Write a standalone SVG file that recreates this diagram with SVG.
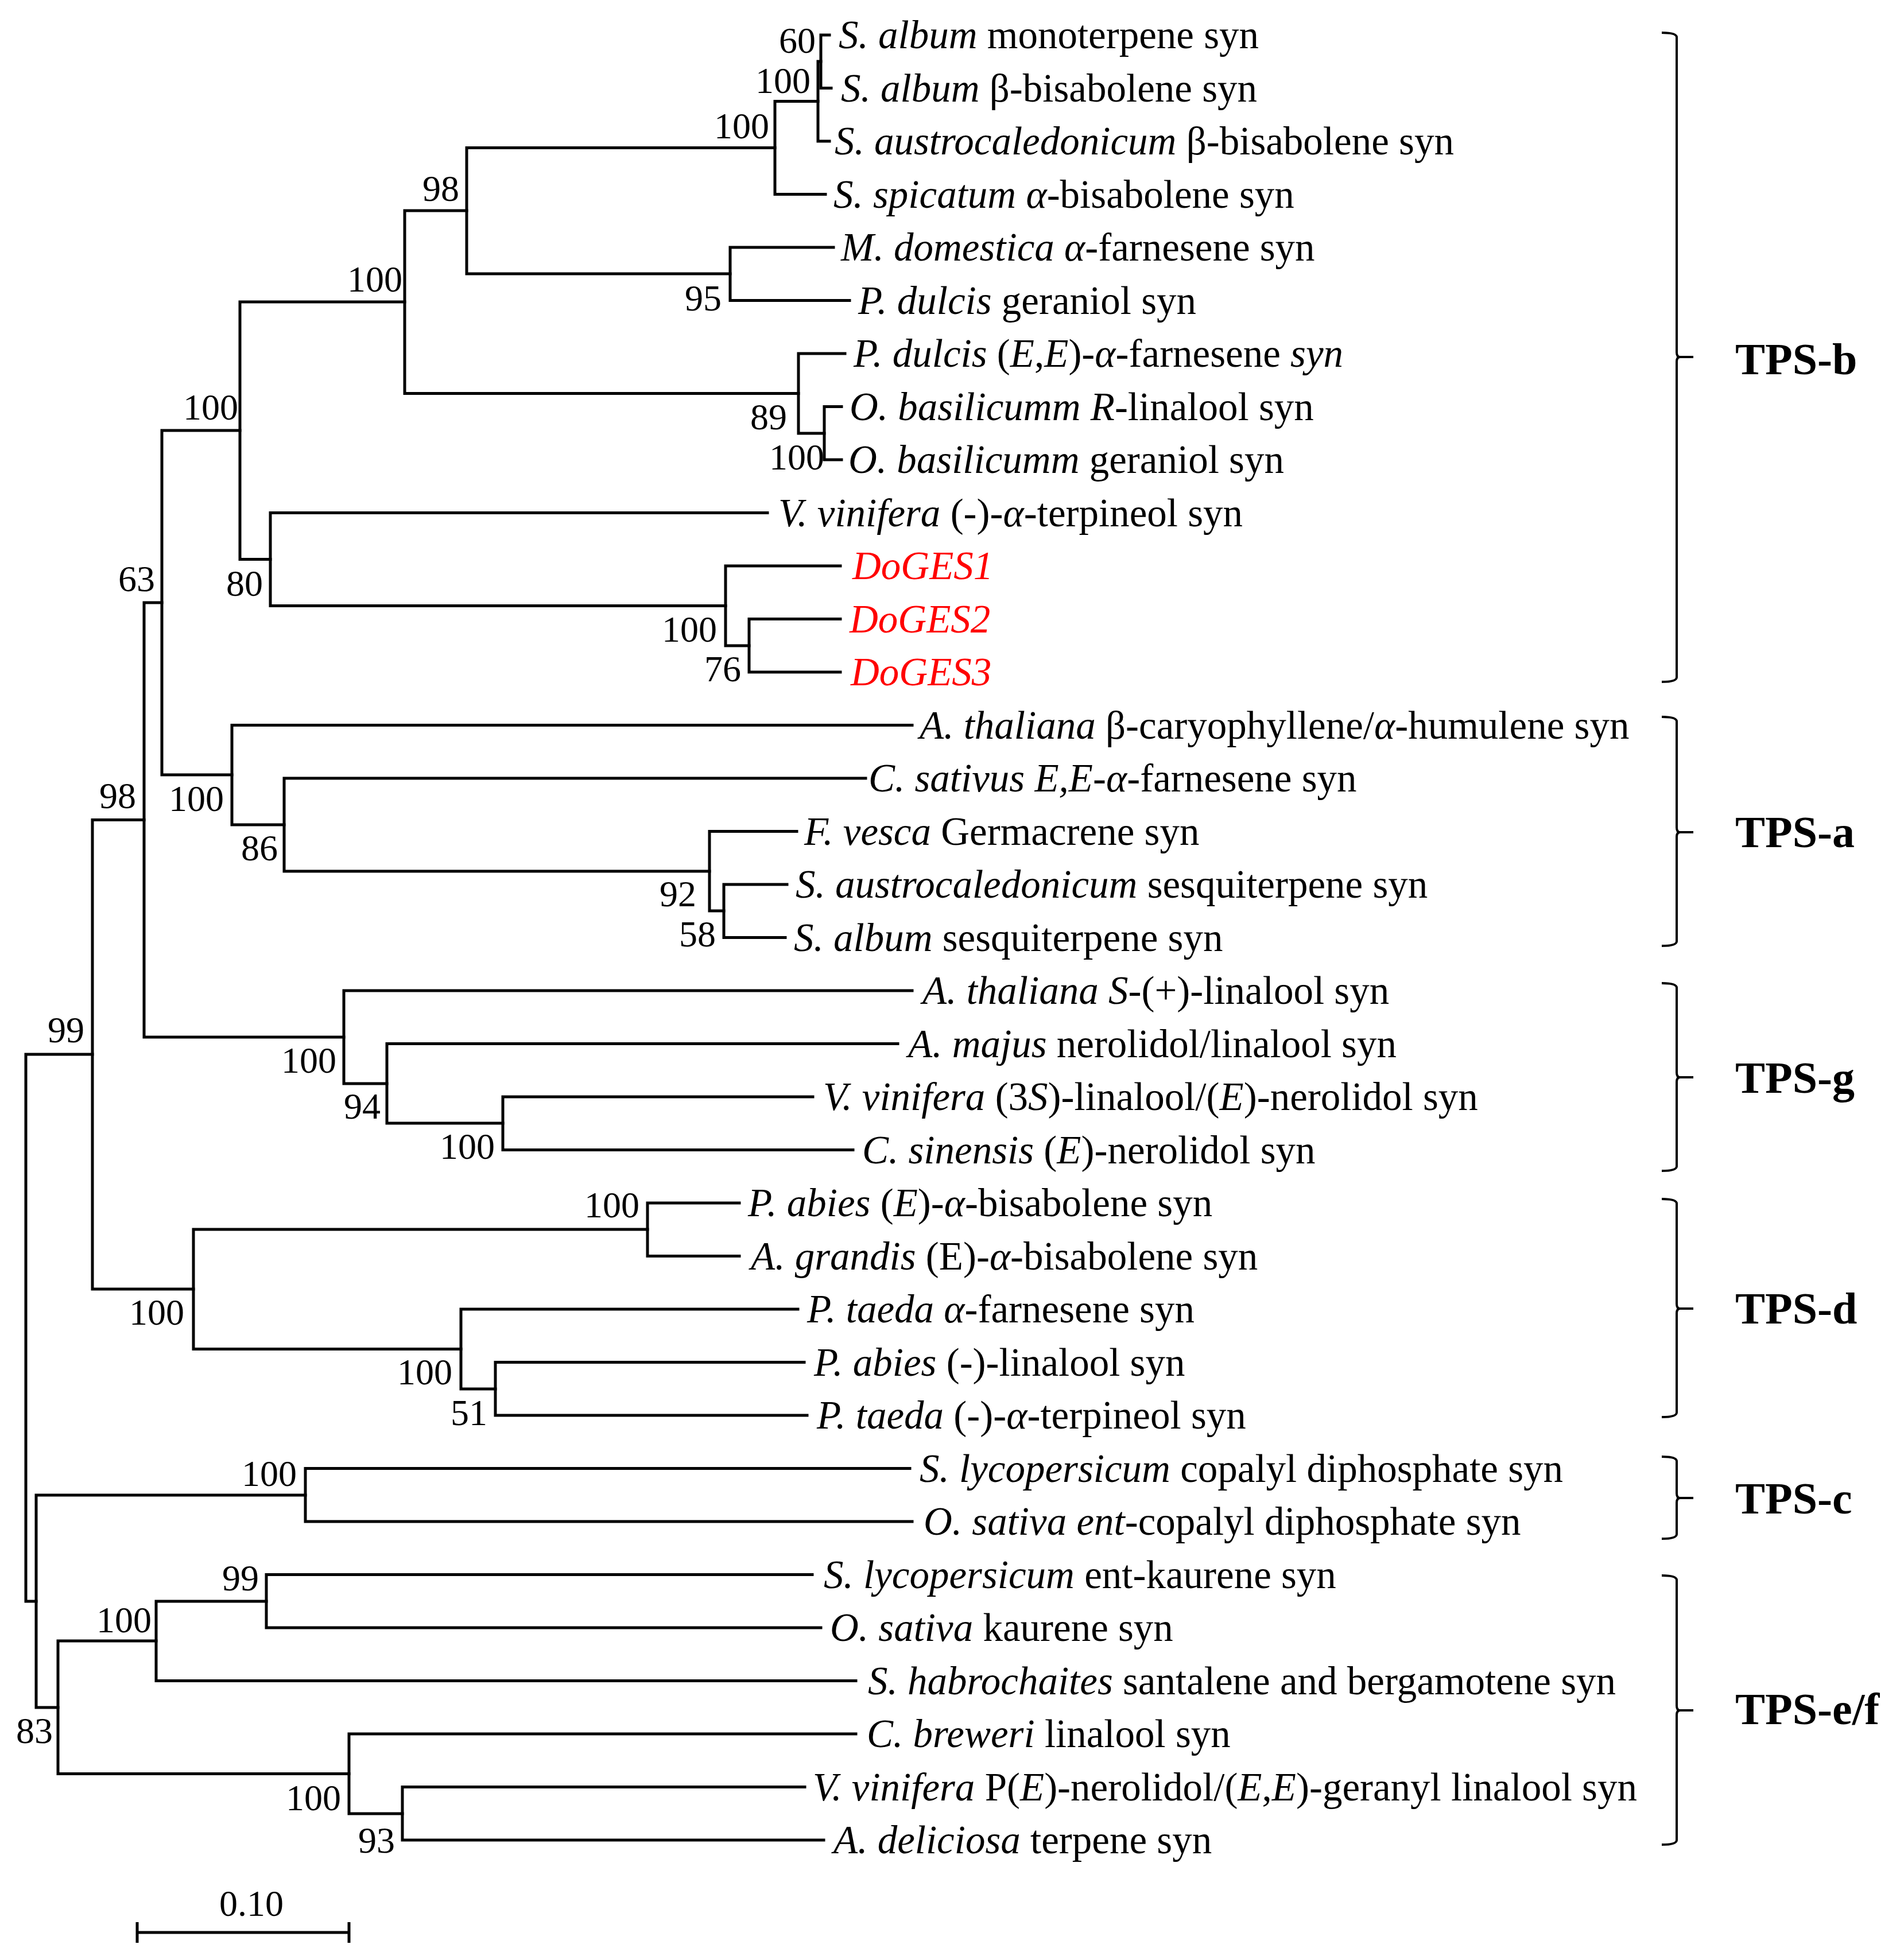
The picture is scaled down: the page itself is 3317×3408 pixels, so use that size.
<svg xmlns="http://www.w3.org/2000/svg" width="3317" height="3408" viewBox="0 0 3317 3408">
<style>
.br{fill:none;stroke:#000;stroke-width:5;stroke-linejoin:miter;stroke-linecap:square}
.bk{fill:none;stroke:#000;stroke-width:4}
.lf{font-family:"Liberation Serif",serif;font-size:69px;fill:#000}
.bs{font-family:"Liberation Serif",serif;font-size:64px;fill:#000;text-anchor:end}
.cl{font-family:"Liberation Serif",serif;font-size:78px;font-weight:bold;fill:#000}
.it{font-style:italic}
.red{fill:#FF0000;font-style:italic}
</style>
<rect width="3317" height="3408" fill="#fff"/>
<g id="connectors">
<path class="br" d="M1445,61 H1430 V153.5 H1448"/>
<path class="br" d="M1430,107 H1425 V246 H1445"/>
<path class="br" d="M1425,176.5 H1350 V338.5 H1438"/>
<path class="br" d="M1452,431 H1272 V523.5 H1480"/>
<path class="br" d="M1350,257.5 H813 V477 H1272"/>
<path class="br" d="M1466,708.5 H1436 V801 H1466"/>
<path class="br" d="M1472,616 H1391 V755 H1436"/>
<path class="br" d="M813,367 H705 V685.5 H1391"/>
<path class="br" d="M1464,1078.5 H1305 V1171 H1464"/>
<path class="br" d="M1464,986 H1264 V1125 H1305"/>
<path class="br" d="M1337,893.5 H471 V1055.5 H1264"/>
<path class="br" d="M705,526 H418 V974.5 H471"/>
<path class="br" d="M1371,1541 H1261 V1633.5 H1368"/>
<path class="br" d="M1388,1448.5 H1236 V1587 H1261"/>
<path class="br" d="M1508,1356 H495 V1518 H1236"/>
<path class="br" d="M1589,1263.5 H404 V1437 H495"/>
<path class="br" d="M418,750 H282 V1350 H404"/>
<path class="br" d="M1416,1911 H876 V2003.5 H1486"/>
<path class="br" d="M1564,1818.5 H674 V1957 H876"/>
<path class="br" d="M1589,1726 H599 V1888 H674"/>
<path class="br" d="M282,1050 H251 V1807 H599"/>
<path class="br" d="M1288,2096 H1128 V2188.5 H1288"/>
<path class="br" d="M1401,2373.5 H863 V2466 H1406"/>
<path class="br" d="M1390,2281 H803 V2420 H863"/>
<path class="br" d="M1128,2142 H337 V2350.5 H803"/>
<path class="br" d="M251,1428.5 H161 V2246 H337"/>
<path class="br" d="M1585,2558.5 H532 V2651 H1589"/>
<path class="br" d="M1415,2743.5 H464 V2836 H1430"/>
<path class="br" d="M464,2790 H272 V2928.5 H1491"/>
<path class="br" d="M1402,3113.5 H701 V3206 H1435"/>
<path class="br" d="M1491,3021 H608 V3160 H701"/>
<path class="br" d="M272,2859 H101 V3090.5 H608"/>
<path class="br" d="M532,2605 H63 V2975 H101"/>
<path class="br" d="M161,1837 H45 V2790 H63"/>
</g>
<g id="leaves">
<g id="leaf1"><text class="lf" x="1461" y="84"><tspan class="it">S. album</tspan> monoterpene syn</text></g>
<g id="leaf2"><text class="lf" x="1465" y="176.5"><tspan class="it">S. album</tspan> β-bisabolene syn</text></g>
<g id="leaf3"><text class="lf" x="1454" y="269"><tspan class="it">S. austrocaledonicum</tspan> β-bisabolene syn</text></g>
<g id="leaf4"><text class="lf" x="1452" y="361.5"><tspan class="it">S. spicatum α</tspan>-bisabolene syn</text></g>
<g id="leaf5"><text class="lf" x="1465" y="454"><tspan class="it">M. domestica α</tspan>-farnesene syn</text></g>
<g id="leaf6"><text class="lf" x="1495" y="546.5"><tspan class="it">P. dulcis</tspan> geraniol syn</text></g>
<g id="leaf7"><text class="lf" x="1487" y="639"><tspan class="it">P. dulcis</tspan> (<tspan class="it">E</tspan>,<tspan class="it">E</tspan>)-<tspan class="it">α</tspan>-farnesene <tspan class="it">syn</tspan></text></g>
<g id="leaf8"><text class="lf" x="1480" y="731.5"><tspan class="it">O. basilicumm R</tspan>-linalool syn</text></g>
<g id="leaf9"><text class="lf" x="1478" y="824"><tspan class="it">O. basilicumm</tspan> geraniol syn</text></g>
<g id="leaf10"><text class="lf" x="1356" y="916.5"><tspan class="it">V. vinifera</tspan> (-)-<tspan class="it">α</tspan>-terpineol syn</text></g>
<g id="leaf11"><text class="lf red" x="1485" y="1009">DoGES1</text></g>
<g id="leaf12"><text class="lf red" x="1480" y="1101.5">DoGES2</text></g>
<g id="leaf13"><text class="lf red" x="1482" y="1194">DoGES3</text></g>
<g id="leaf14"><text class="lf" x="1602" y="1286.5"><tspan class="it">A. thaliana</tspan> β-caryophyllene/<tspan class="it">α</tspan>-humulene syn</text></g>
<g id="leaf15"><text class="lf" x="1513" y="1379"><tspan class="it">C. sativus E,E-α</tspan>-farnesene syn</text></g>
<g id="leaf16"><text class="lf" x="1401" y="1471.5"><tspan class="it">F. vesca</tspan> Germacrene syn</text></g>
<g id="leaf17"><text class="lf" x="1386" y="1564"><tspan class="it">S. austrocaledonicum</tspan> sesquiterpene syn</text></g>
<g id="leaf18"><text class="lf" x="1383" y="1656.5"><tspan class="it">S. album</tspan> sesquiterpene syn</text></g>
<g id="leaf19"><text class="lf" x="1607" y="1749"><tspan class="it">A. thaliana S</tspan>-(+)-linalool syn</text></g>
<g id="leaf20"><text class="lf" x="1582" y="1841.5"><tspan class="it">A. majus</tspan> nerolidol/linalool syn</text></g>
<g id="leaf21"><text class="lf" x="1434" y="1934"><tspan class="it">V. vinifera</tspan> (3<tspan class="it">S</tspan>)-linalool/(<tspan class="it">E</tspan>)-nerolidol syn</text></g>
<g id="leaf22"><text class="lf" x="1502" y="2026.5"><tspan class="it">C. sinensis</tspan> (<tspan class="it">E</tspan>)-nerolidol syn</text></g>
<g id="leaf23"><text class="lf" x="1303" y="2119"><tspan class="it">P. abies</tspan> (<tspan class="it">E</tspan>)-<tspan class="it">α</tspan>-bisabolene syn</text></g>
<g id="leaf24"><text class="lf" x="1308" y="2211.5"><tspan class="it">A. grandis</tspan> (E)-<tspan class="it">α</tspan>-bisabolene syn</text></g>
<g id="leaf25"><text class="lf" x="1406" y="2304"><tspan class="it">P. taeda α</tspan>-farnesene syn</text></g>
<g id="leaf26"><text class="lf" x="1418" y="2396.5"><tspan class="it">P. abies</tspan> (-)-linalool syn</text></g>
<g id="leaf27"><text class="lf" x="1423" y="2489"><tspan class="it">P. taeda</tspan> (-)-<tspan class="it">α</tspan>-terpineol syn</text></g>
<g id="leaf28"><text class="lf" x="1602" y="2581.5"><tspan class="it">S. lycopersicum</tspan> copalyl diphosphate syn</text></g>
<g id="leaf29"><text class="lf" x="1609" y="2674"><tspan class="it">O. sativa ent</tspan>-copalyl diphosphate syn</text></g>
<g id="leaf30"><text class="lf" x="1435" y="2766.5"><tspan class="it">S. lycopersicum</tspan> ent-kaurene syn</text></g>
<g id="leaf31"><text class="lf" x="1446" y="2859"><tspan class="it">O. sativa</tspan> kaurene syn</text></g>
<g id="leaf32"><text class="lf" x="1512" y="2951.5"><tspan class="it">S. habrochaites</tspan> santalene and bergamotene syn</text></g>
<g id="leaf33"><text class="lf" x="1510" y="3044"><tspan class="it">C. breweri</tspan> linalool syn</text></g>
<g id="leaf34"><text class="lf" x="1416" y="3136.5"><tspan class="it">V. vinifera</tspan> P(<tspan class="it">E</tspan>)-nerolidol/(<tspan class="it">E</tspan>,<tspan class="it">E</tspan>)-geranyl linalool syn</text></g>
<g id="leaf35"><text class="lf" x="1452" y="3229"><tspan class="it">A. deliciosa</tspan> terpene syn</text></g>
</g>
<g id="bootstrap">
<g id="bs60"><text class="bs" x="1421" y="92">60</text></g>
<g id="bs100a"><text class="bs" x="1412" y="162">100</text></g>
<g id="bs100b"><text class="bs" x="1340" y="241">100</text></g>
<g id="bs98"><text class="bs" x="800" y="350">98</text></g>
<g id="bs95"><text class="bs" x="1257" y="541">95</text></g>
<g id="bs100d"><text class="bs" x="701" y="508">100</text></g>
<g id="bs89"><text class="bs" x="1371" y="748">89</text></g>
<g id="bs100c"><text class="bs" x="1436" y="818">100</text></g>
<g id="bs100f"><text class="bs" x="415" y="731">100</text></g>
<g id="bs63"><text class="bs" x="270" y="1030">63</text></g>
<g id="bs80"><text class="bs" x="458" y="1038">80</text></g>
<g id="bs100e"><text class="bs" x="1249" y="1118">100</text></g>
<g id="bs76"><text class="bs" x="1291" y="1187">76</text></g>
<g id="bs98b"><text class="bs" x="237" y="1408">98</text></g>
<g id="bs100g"><text class="bs" x="390" y="1413">100</text></g>
<g id="bs86"><text class="bs" x="484" y="1499">86</text></g>
<g id="bs92"><text class="bs" x="1213" y="1579">92</text></g>
<g id="bs58"><text class="bs" x="1247" y="1649">58</text></g>
<g id="bs99"><text class="bs" x="147" y="1816">99</text></g>
<g id="bs100i"><text class="bs" x="586" y="1869">100</text></g>
<g id="bs94"><text class="bs" x="663" y="1949">94</text></g>
<g id="bs100h"><text class="bs" x="862" y="2019">100</text></g>
<g id="bs100j"><text class="bs" x="1114" y="2121">100</text></g>
<g id="bs100l"><text class="bs" x="321" y="2308">100</text></g>
<g id="bs100k"><text class="bs" x="788" y="2412">100</text></g>
<g id="bs51"><text class="bs" x="849" y="2483">51</text></g>
<g id="bs100m"><text class="bs" x="517" y="2589">100</text></g>
<g id="bs99b"><text class="bs" x="451" y="2771">99</text></g>
<g id="bs100n"><text class="bs" x="264" y="2844">100</text></g>
<g id="bs83"><text class="bs" x="92" y="3037">83</text></g>
<g id="bs100o"><text class="bs" x="594" y="3154">100</text></g>
<g id="bs93"><text class="bs" x="688" y="3228">93</text></g>
</g>
<g id="clades">
<g id="tps-b"><path class="bk" d="M2895,57 Q2921,57 2921,65 V614 Q2921,622 2927,622 H2950 M2927,622 Q2921,622 2921,630 V1180 Q2921,1188 2895,1188"/><text class="cl" x="3023" y="652">TPS-b</text></g>
<g id="tps-a"><path class="bk" d="M2895,1249 Q2921,1249 2921,1257 V1442 Q2921,1450 2927,1450 H2950 M2927,1450 Q2921,1450 2921,1458 V1640 Q2921,1648 2895,1648"/><text class="cl" x="3023" y="1476">TPS-a</text></g>
<g id="tps-g"><path class="bk" d="M2895,1713 Q2921,1713 2921,1721 V1869 Q2921,1877 2927,1877 H2950 M2927,1877 Q2921,1877 2921,1885 V2032 Q2921,2040 2895,2040"/><text class="cl" x="3023" y="1904">TPS-g</text></g>
<g id="tps-d"><path class="bk" d="M2895,2089 Q2921,2089 2921,2097 V2272 Q2921,2280 2927,2280 H2950 M2927,2280 Q2921,2280 2921,2288 V2461 Q2921,2469 2895,2469"/><text class="cl" x="3023" y="2306">TPS-d</text></g>
<g id="tps-c"><path class="bk" d="M2895,2538 Q2921,2538 2921,2546 V2602 Q2921,2610 2927,2610 H2950 M2927,2610 Q2921,2610 2921,2618 V2673 Q2921,2681 2895,2681"/><text class="cl" x="3023" y="2637">TPS-c</text></g>
<g id="tps-ef"><path class="bk" d="M2895,2745 Q2921,2745 2921,2753 V2972 Q2921,2980 2927,2980 H2950 M2927,2980 Q2921,2980 2921,2988 V3206 Q2921,3214 2895,3214"/><text class="cl" x="3023" y="3004">TPS-e/f</text></g>
</g>
<g id="scalebar">
<path class="br" d="M239,3367 H608 M239,3349 V3385 M608,3349 V3385" style="stroke-linecap:butt"/>
<text class="bs" x="438" y="3338" style="text-anchor:middle">0.10</text>
</g>
</svg>
